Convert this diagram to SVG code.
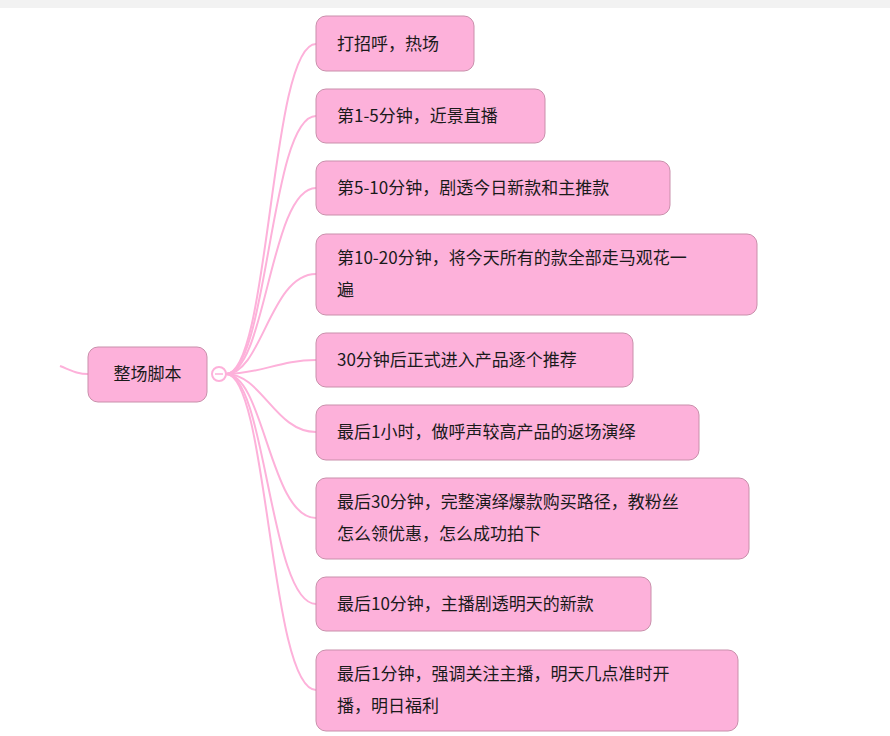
<svg xmlns="http://www.w3.org/2000/svg" width="890" height="736" viewBox="0 0 890 736">
<style>
.n{fill:#fdb1da;stroke:#c98fab;stroke-width:1}
.t{font-family:"Noto Sans CJK SC","Liberation Sans",sans-serif;font-size:17px;fill:#1a1a1a}
.c{fill:none;stroke:#fdb1da;stroke-width:2}
</style>
<rect width="890" height="736" fill="#fff"/>
<rect width="890" height="8" fill="#f2f2f2"/>
<g id="connectors">
<path class="c" d="M60,366 C75,372 78,374 88,374"/>
<path class="c" d="M226,374 C270,374 270,44 316,44"/>
<path class="c" d="M226,374 C268,374 270,116 316,116"/>
<path class="c" d="M226,374 C266,374 270,188 316,188"/>
<path class="c" d="M226,374 C262,374 270,274 316,274"/>
<path class="c" d="M226,374 C260,374 280,360 316,360"/>
<path class="c" d="M226,374 C262,374 275,432 316,432"/>
<path class="c" d="M226,374 C264,374 270,518 316,518"/>
<path class="c" d="M226,374 C266,374 270,604 316,604"/>
<path class="c" d="M226,374 C268,374 270,690 316,690"/>
<circle cx="219" cy="374" r="7" fill="#fff" stroke="#fdb1da" stroke-width="2"/>
<line x1="215" y1="374" x2="223" y2="374" stroke="#fdb1da" stroke-width="1.5"/>
</g>
<g id="root"><rect class="n" x="88" y="347" width="119" height="55" rx="10"/><text class="t" x="147.5" y="380" text-anchor="middle">整场脚本</text></g>
<g id="n1"><rect class="n" x="316" y="16" width="158" height="55" rx="10"/><text class="t" x="337" y="50">打招呼，热场</text></g>
<g id="n2"><rect class="n" x="316" y="89" width="229" height="54" rx="10"/><text class="t" x="337" y="122">第1-5分钟，近景直播</text></g>
<g id="n3"><rect class="n" x="316" y="161" width="354" height="54" rx="10"/><text class="t" x="337" y="194">第5-10分钟，剧透今日新款和主推款</text></g>
<g id="n4"><rect class="n" x="316" y="234" width="441" height="81" rx="10"/><text class="t" x="337" y="264">第10-20分钟，将今天所有的款全部走马观花一</text><text class="t" x="337" y="296">遍</text></g>
<g id="n5"><rect class="n" x="316" y="333" width="317" height="54" rx="10"/><text class="t" x="337" y="366">30分钟后正式进入产品逐个推荐</text></g>
<g id="n6"><rect class="n" x="316" y="405" width="383" height="55" rx="10"/><text class="t" x="337" y="438">最后1小时，做呼声较高产品的返场演绎</text></g>
<g id="n7"><rect class="n" x="316" y="478" width="433" height="81" rx="10"/><text class="t" x="337" y="508">最后30分钟，完整演绎爆款购买路径，教粉丝</text><text class="t" x="337" y="540">怎么领优惠，怎么成功拍下</text></g>
<g id="n8"><rect class="n" x="316" y="577" width="335" height="54" rx="10"/><text class="t" x="337" y="610">最后10分钟，主播剧透明天的新款</text></g>
<g id="n9"><rect class="n" x="316" y="650" width="422" height="81" rx="10"/><text class="t" x="337" y="680">最后1分钟，强调关注主播，明天几点准时开</text><text class="t" x="337" y="712">播，明日福利</text></g>
</svg>
